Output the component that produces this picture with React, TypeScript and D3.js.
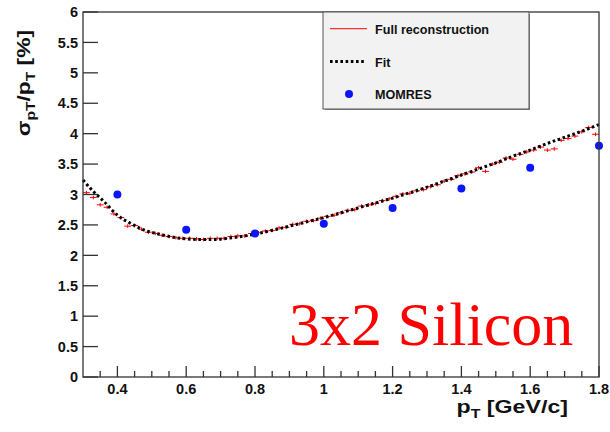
import React from "react";
import * as d3 from "d3";

const W = 610;
const H = 432;

// Fit curve
const fitPt = [0.30,0.33,0.36,0.40,0.44,0.48,0.52,0.56,0.60,0.64,0.68,0.72,0.76,0.80,0.85,0.90,0.95,1.00,1.05,1.10,1.15,1.20,1.25,1.30,1.35,1.40,1.45,1.50,1.55,1.60,1.65,1.70,1.75,1.80];
const fitVal = [3.24,3.05,2.89,2.66,2.52,2.41,2.35,2.30,2.27,2.26,2.26,2.28,2.31,2.35,2.41,2.48,2.55,2.62,2.70,2.78,2.86,2.94,3.03,3.12,3.22,3.32,3.42,3.52,3.63,3.73,3.84,3.94,4.04,4.15];

// Full reconstruction histogram: bins of 0.02 from 0.30 to 1.80
const binLow = 0.30;
const binWidth = 0.02;
const recoVal = [
  3.03,2.95,2.83,2.79,2.68,2.62,2.48,2.49,2.43,2.38,
  2.36,2.33,2.31,2.29,2.28,2.28,2.27,2.26,2.28,2.28,
  2.28,2.31,2.32,2.32,2.36,2.37,2.40,2.41,2.45,2.46,
  2.51,2.52,2.56,2.57,2.61,2.64,2.66,2.70,2.74,2.75,
  2.81,2.83,2.85,2.90,2.93,2.97,3.01,3.02,3.06,3.08,
  3.13,3.16,3.22,3.25,3.31,3.34,3.37,3.44,3.38,3.50,
  3.53,3.60,3.58,3.66,3.70,3.73,3.78,3.73,3.75,3.89,
  3.92,3.96,4.03,4.10,3.99
];
const recoErr = 0.03;

// MOMRES points
const momPt = [0.4,0.6,0.8,1.0,1.2,1.4,1.6,1.8];
const momVal = [3.00,2.42,2.36,2.52,2.78,3.10,3.44,3.80];

const yTicks = [0,0.5,1,1.5,2,2.5,3,3.5,4,4.5,5,5.5,6];
const yTickLabels = ["0","0.5","1","1.5","2","2.5","3","3.5","4","4.5","5","5.5","6"];
const xTicks = [0.4,0.6,0.8,1.0,1.2,1.4,1.6,1.8];
const xTickLabels = ["0.4","0.6","0.8","1","1.2","1.4","1.6","1.8"];
const xMinor = [0.35,0.45,0.5,0.55,0.65,0.7,0.75,0.85,0.9,0.95,1.05,1.1,1.15,1.25,1.3,1.35,1.45,1.5,1.55,1.65,1.7,1.75];

const legendLabels = ["Full reconstruction", "Fit", "MOMRES"];

const L = 83, R = 599, T = 12, B = 377;

export default function App() {
  const x = d3.scaleLinear().domain([0.3, 1.8]).range([L, R]);
  const y = d3.scaleLinear().domain([0, 6]).range([B, T]);
  const fitLine = d3
    .line<number>()
    .x((_, i) => x(fitPt[i]))
    .y((d) => y(d))
    .curve(d3.curveMonotoneX);

  const font = "'Liberation Sans', Arial, Helvetica, sans-serif";
  const axisColor = "#333";

  return (
    <svg
      width={W}
      height={H}
      style={{ position: "absolute", left: 0, top: 0, background: "#fff" }}
      fontFamily={font}
    >
      <rect x={0} y={0} width={W} height={H} fill="#fff" />

      {/* red histogram */}
      <g stroke="#ff0000" strokeWidth={1}>
        {recoVal.map((v, i) => {
          const lo = binLow + i * binWidth;
          const c = lo + binWidth / 2;
          return (
            <g key={i}>
              <line x1={x(lo)} x2={x(lo + binWidth)} y1={y(v)} y2={y(v)} />
              <line x1={x(c)} x2={x(c)} y1={y(v - recoErr)} y2={y(v + recoErr)} />
            </g>
          );
        })}
      </g>

      {/* fit */}
      <path
        d={fitLine(fitVal) || ""}
        fill="none"
        stroke="#000"
        strokeWidth={3}
        strokeDasharray="2.6 2.6"
      />

      {/* MOMRES */}
      <g fill="#0a14ff">
        {momVal.map((v, i) => (
          <circle key={i} cx={x(momPt[i])} cy={y(v)} r={4} />
        ))}
      </g>

      {/* frame */}
      <rect x={L} y={T} width={R - L} height={B - T} fill="none" stroke={axisColor} strokeWidth={1.3} />

      {/* y ticks */}
      <g stroke={axisColor} strokeWidth={1.3}>
        {yTicks.map((t) => (
          <line key={t} x1={L} x2={L + 15} y1={y(t)} y2={y(t)} />
        ))}
        {xTicks.map((t) => (
          <line key={"x" + t} x1={x(t)} x2={x(t)} y1={B} y2={B - 11} />
        ))}
        {xMinor.map((t) => (
          <line key={"m" + t} x1={x(t)} x2={x(t)} y1={B} y2={B - 6} />
        ))}
      </g>

      <g fontSize={14.5} fontWeight="bold" fill="#111">
        {yTicks.map((t, i) => (
          <text key={t} x={78} y={y(t)} dy="0.36em" textAnchor="end">
            {yTickLabels[i]}
          </text>
        ))}
        {xTicks.map((t, i) => (
          <text key={t} x={x(t)} y={393.5} textAnchor="middle">
            {xTickLabels[i]}
          </text>
        ))}
      </g>

      {/* axis titles */}
      <g transform={`translate(568,413) scale(1.22,1)`}>
        <text textAnchor="end" fontSize={19} fontWeight="bold" fill="#111">
          p<tspan fontSize={13} dy={5}>T</tspan>
          <tspan dy={-5}> [GeV/c]</tspan>
        </text>
      </g>
      <g transform={`translate(29.5,30) rotate(-90) scale(1.2,1)`}>
        <text textAnchor="end" fontSize={19} fontWeight="bold" fill="#111">
          σ<tspan fontSize={13} dy={5}>pT</tspan>
          <tspan dy={-5}>/p</tspan>
          <tspan fontSize={13} dy={5}>T</tspan>
          <tspan dy={-5}> [%]</tspan>
        </text>
      </g>

      {/* legend */}
      <rect x={325} y={14} width={205} height={96} fill="#888" />
      <rect x={323} y={12} width={206} height={97} fill="#f2f2f2" stroke="#555" strokeWidth={1} />
      <line x1={330} x2={367} y1={28.7} y2={28.7} stroke="#ff0000" strokeWidth={1} />
      <line x1={330} x2={364} y1={61.5} y2={61.5} stroke="#000" strokeWidth={3} strokeDasharray="2.6 2.6" />
      <circle cx={349} cy={94} r={4} fill="#0a14ff" />
      <g fontSize={12.6} fontWeight="bold" fill="#111">
        <text x={375} y={34}>{legendLabels[0]}</text>
        <text x={375} y={66.5}>{legendLabels[1]}</text>
        <text x={375} y={99}>{legendLabels[2]}</text>
      </g>

      {/* label */}
      <text
        x={289}
        y={345}
        fontFamily="'Liberation Serif', 'Times New Roman', serif"
        fontSize={62}
        fill="#ff0000"
      >
        3x2 Silicon
      </text>
    </svg>
  );
}
